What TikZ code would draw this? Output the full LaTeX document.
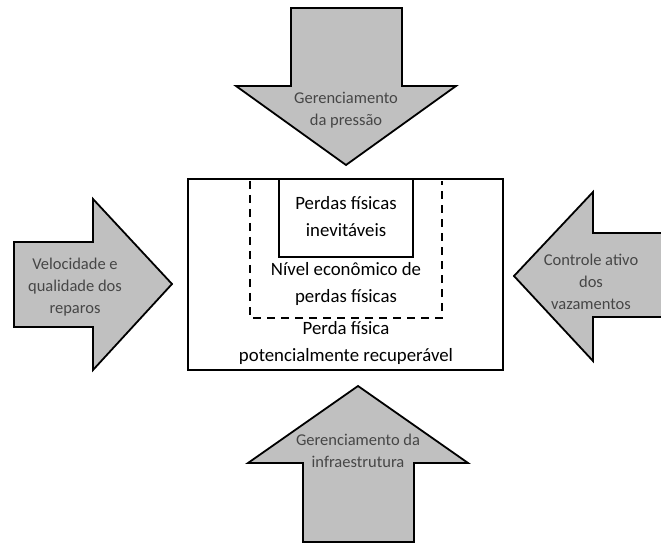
\documentclass[tikz,border=0pt]{standalone}
\usepackage{fontspec}
\setmainfont{Carlito}
\usetikzlibrary{positioning}
\definecolor{arrowgray}{RGB}{192,192,192}
\definecolor{labelgray}{RGB}{70,70,70}

\begin{document}
\begin{tikzpicture}[x=1pt,y=-1pt,
  blockarrow/.style={draw=black,line width=1.8pt,fill=arrowgray,line join=miter},
  frame/.style={draw=black,line width=1.5pt},
  limit/.style={draw=black,line width=1.5pt,dash pattern=on 8pt off 6pt},
  arrowtext/.style={align=center,text=labelgray,font=\fontsize{16.5}{22}\selectfont},
  boxtext/.style={align=center,font=\fontsize{18.8}{27}\selectfont}]
\useasboundingbox (0,0) rectangle (661,545);
% the four arrows
\draw[blockarrow] (291,8) -- (402,8) -- (402,86) -- (456,86) -- (346,165) -- (236,86) -- (291,86) -- cycle;
\draw[blockarrow] (303,542) -- (414,542) -- (414,463) -- (468,463) -- (358,386) -- (248,463) -- (303,463) -- cycle;
\draw[blockarrow] (14,242) -- (93,242) -- (93,199) -- (172,284) -- (93,370) -- (93,327) -- (14,327) -- cycle;
\draw[blockarrow] (663,233) -- (593,233) -- (593,192) -- (514,276) -- (593,361) -- (593,317) -- (663,317);
% the nested boxes
\draw[frame] (188,179) rectangle (503,370);
\draw[limit] (250,181) -- (250,318) -- (442,318) -- (442,181);
\draw[frame] (279,179) -- (279,257) -- (413,257) -- (413,179);
% labels
\node[arrowtext] (pressao) at (346,110) {Gerenciamento\\da pressão};
\node[arrowtext] (infra) at (358,451) {Gerenciamento da\\infraestrutura};
\node[arrowtext] (reparos) at (75,287) {Velocidade e\\qualidade dos\\reparos};
\node[arrowtext] (vazamentos) at (591,282) {Controle ativo\\dos\\vazamentos};
\node[boxtext] (inevitaveis) at (346,217) {Perdas físicas\\inevitáveis};
\node[boxtext] (economico) at (346,284) {Nível econômico de\\perdas físicas};
\node[boxtext] (recuperavel) at (346,343) {Perda física\\potencialmente recuperável};
\end{tikzpicture}
\end{document}
